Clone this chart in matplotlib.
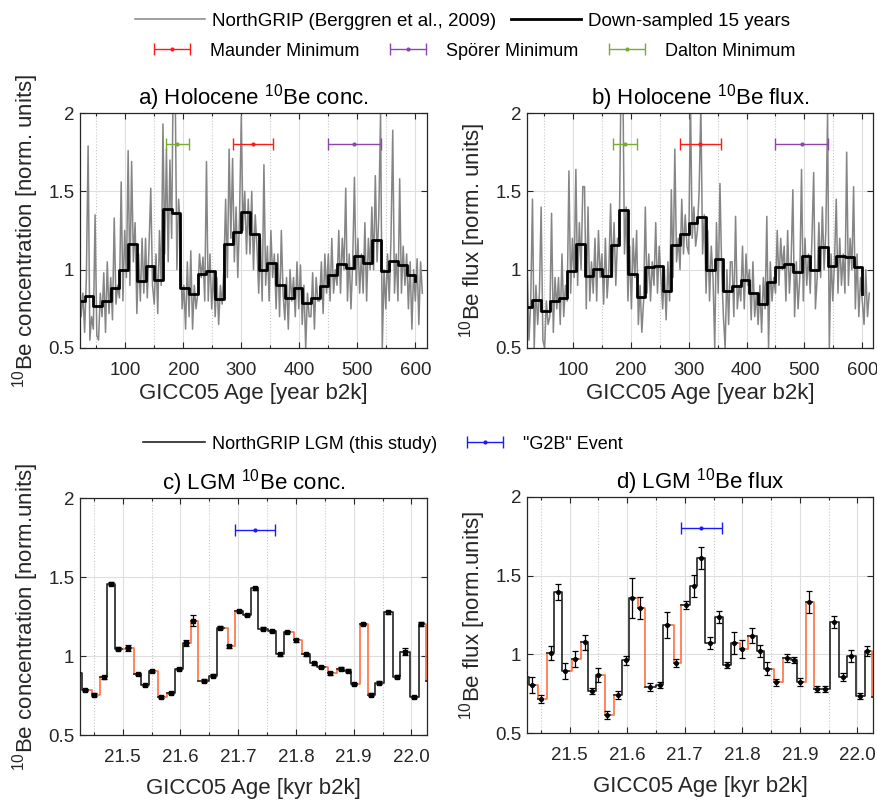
import numpy as np
import matplotlib
matplotlib.use('Agg')
import matplotlib.pyplot as plt
from matplotlib.legend_handler import HandlerErrorbar

plt.rcParams['font.family'] = ['Liberation Sans', 'DejaVu Sans']
plt.rcParams['mathtext.fontset'] = 'custom'
plt.rcParams['mathtext.rm'] = 'Liberation Sans'
plt.rcParams['mathtext.it'] = 'Liberation Sans:italic'
plt.rcParams['mathtext.bf'] = 'Liberation Sans:bold'

# ---------------- Holocene data (NorthGRIP, Berggren et al. 2009) ----------------
hol_age = np.arange(15, 613, 3)  # year b2k, 3-yr samples

# normalised 10Be concentration, 5 samples per 15-yr bin
a_grey = [
    0.92, 0.62, 1.02, 0.70, 0.85,
    0.60, 0.95, 1.79, 0.55, 0.70,
    0.62, 1.35, 0.58, 0.55, 0.85,
    0.70, 0.98, 0.60, 1.05, 0.72,
    0.95, 0.68, 1.33, 0.78, 0.90,
    0.82, 1.56, 0.80, 1.25, 0.95,
    1.76, 0.90, 1.69, 1.05, 1.30,
    0.72, 1.10, 0.80, 1.20, 0.85,
    1.20, 0.82, 1.15, 1.52, 0.90,
    0.78, 1.10, 0.72, 1.25, 0.90,
    1.93, 1.10, 1.77, 1.05, 1.70,
    1.20, 2.40, 2.20, 1.00, 1.45,
    1.25, 0.75, 0.90, 0.62, 1.05,
    0.70, 1.12, 0.62, 0.90, 0.75,
    0.85, 1.10, 0.95, 1.08, 0.80,
    1.69, 0.80, 1.10, 0.75, 0.98,
    0.70, 0.95, 0.65, 0.90, 0.78,
    1.00, 1.45, 0.95, 1.77, 1.20,
    1.71, 1.05, 1.40, 0.95, 1.35,
    1.98, 1.25, 1.50, 1.10, 1.45,
    1.10, 1.50, 1.00, 1.35, 1.15,
    0.85, 1.20, 0.80, 1.67, 0.90,
    1.15, 0.80, 1.25, 0.95, 1.10,
    0.75, 1.10, 0.70, 1.25, 0.85,
    0.68, 0.95, 0.62, 1.00, 0.80,
    0.95, 0.70, 1.05, 0.75, 1.03,
    0.65, 0.90, 0.50, 0.85, 0.70,
    0.70, 0.98, 0.62, 0.95, 0.80,
    0.80, 1.05, 0.72, 1.10, 0.85,
    1.10, 0.80, 1.20, 0.85, 1.00,
    0.90, 1.25, 0.85, 1.20, 1.00,
    1.52, 0.80, 1.10, 0.75, 1.05,
    1.59, 0.90, 1.20, 0.85, 1.10,
    0.85, 1.30, 0.80, 1.20, 1.00,
    1.40, 1.00, 1.60, 1.05, 1.35,
    2.00, 0.50, 1.00, 0.75, 1.10,
    0.80, 1.20, 1.89, 0.85, 1.10,
    0.80, 1.58, 0.85, 1.15, 0.90,
    1.10, 0.75, 1.05, 0.62, 1.00,
    0.80, 1.07, 0.65, 1.05, 0.85,
]

# normalised 10Be flux
b_grey = [
    0.95, 0.62, 1.00, 0.55, 0.80,
    1.45, 0.50, 0.90, 0.65, 0.85,
    1.40, 0.55, 0.50, 0.80, 0.65,
    0.70, 1.36, 0.60, 0.95, 0.75,
    0.95, 0.65, 1.10, 0.70, 0.90,
    0.80, 1.63, 0.85, 1.20, 0.95,
    1.64, 0.90, 1.30, 1.00, 1.53,
    1.53, 0.75, 1.40, 0.80, 1.05,
    0.85, 1.20, 0.80, 1.25, 0.95,
    1.10, 0.78, 1.20, 0.82, 1.00,
    1.42, 0.95, 1.30, 0.90, 1.20,
    1.20, 2.20, 2.30, 1.10, 1.40,
    0.80, 1.15, 0.75, 1.20, 0.95,
    1.25, 0.65, 0.90, 0.60, 0.80,
    1.40, 0.85, 1.10, 0.80, 1.05,
    0.90, 1.30, 0.85, 1.15, 0.95,
    0.75, 1.00, 0.68, 1.05, 0.80,
    1.51, 0.95, 1.77, 1.05, 1.20,
    1.00, 1.45, 1.10, 1.35, 1.15,
    1.10, 2.10, 1.20, 1.40, 1.15,
    1.25, 1.50, 2.05, 1.10, 1.35,
    0.85, 1.25, 0.80, 1.15, 0.95,
    0.50, 1.30, 0.85, 1.55, 1.00,
    0.70, 0.50, 1.00, 0.65, 1.05,
    1.05, 0.70, 1.34, 0.75, 0.90,
    0.80, 1.15, 0.75, 1.10, 0.90,
    1.00, 0.68, 1.05, 0.70, 0.85,
    0.65, 0.90, 0.60, 0.95, 0.75,
    1.34, 0.50, 1.05, 0.80, 0.95,
    0.85, 1.25, 0.90, 1.20, 1.00,
    1.15, 0.80, 1.25, 0.85, 1.05,
    1.51, 0.70, 1.05, 0.75, 0.95,
    1.64, 0.80, 1.20, 0.90, 1.10,
    0.85, 1.20, 1.62, 0.75, 0.95,
    1.30, 0.95, 1.40, 1.00, 1.25,
    2.00, 0.50, 1.10, 0.80, 1.05,
    1.45, 0.85, 1.20, 0.90, 1.10,
    0.85, 1.75, 0.90, 1.20, 1.00,
    1.53, 0.75, 1.10, 0.70, 0.95,
    0.80, 0.65, 1.00, 0.70, 0.85,
]

# 15-year down-sampled record (bin start ages, last value closes the step)
bin_age = np.arange(15, 601, 15)
a_step = [0.80, 0.83, 0.77, 0.80, 0.885, 1.00, 1.165, 0.925, 1.025, 0.935,
          1.385, 1.36, 0.885, 0.845, 0.975, 0.99, 0.815, 1.165, 1.24, 1.37,
          1.225, 1.00, 1.045, 0.905, 0.82, 0.885, 0.785, 0.82, 0.895, 0.965,
          1.035, 1.01, 1.085, 1.04, 1.19, 0.99, 1.055, 1.03, 0.965, 0.93]
b_step = [0.76, 0.805, 0.736, 0.797, 0.818, 0.994, 1.166, 0.962, 1.003, 0.958,
          1.156, 1.38, 0.97, 0.825, 1.015, 1.025, 0.865, 1.156, 1.225, 1.295,
          1.335, 1.00, 1.07, 0.865, 0.895, 0.932, 0.85, 0.78, 0.92, 1.02,
          1.033, 0.982, 1.088, 1.00, 1.145, 1.024, 1.085, 1.083, 1.015, 0.844]

# grand solar minima (centre, half width in years)
minima_names = ['Maunder Minimum', 'Spörer Minimum', 'Dalton Minimum']
minima_mid = [320, 495, 190]
minima_half = [35, 45, 20]
minima_colors = ['#ff1a1a', '#8e44ad', '#77ac30']

# ---------------- LGM data (this study) ----------------
lgm_top = [21.410, 21.430, 21.446, 21.461, 21.473, 21.486, 21.505, 21.520, 21.532,
           21.546, 21.561, 21.577, 21.591, 21.604, 21.618, 21.631, 21.650, 21.663,
           21.682, 21.694, 21.709, 21.722, 21.735, 21.752, 21.766, 21.780, 21.796,
           21.810, 21.825, 21.837, 21.855, 21.871, 21.884, 21.895, 21.911, 21.924,
           21.937, 21.952, 21.968, 21.981, 21.997, 22.013, 22.026]
lgm_bot = [21.430, 21.440, 21.454, 21.473, 21.486, 21.499, 21.514, 21.532, 21.546,
           21.554, 21.570, 21.591, 21.604, 21.614, 21.627, 21.650, 21.663, 21.675,
           21.687, 21.709, 21.722, 21.735, 21.752, 21.766, 21.780, 21.790, 21.803,
           21.825, 21.837, 21.850, 21.863, 21.884, 21.895, 21.905, 21.921, 21.937,
           21.952, 21.968, 21.981, 21.997, 22.013, 22.021, 22.045]

c_val = [0.89, 0.786, 0.755, 0.865, 1.458, 1.047, 1.049, 0.885, 0.816, 0.906,
         0.741, 0.767, 0.917, 1.083, 1.222, 0.844, 0.876, 1.18, 1.062, 1.286,
         1.259, 1.43, 1.173, 1.158, 1.01, 1.152, 1.10, 1.01, 0.953, 0.932,
         0.891, 0.921, 0.908, 0.823, 1.203, 0.756, 0.831, 1.276, 0.87, 1.028,
         0.741, 1.205, 0.84]
c_err = [0.008, 0.008, 0.008, 0.008, 0.008, 0.008, 0.02, 0.008, 0.008, 0.008,
         0.008, 0.008, 0.008, 0.02, 0.035, 0.008, 0.008, 0.012, 0.008, 0.008,
         0.008, 0.01, 0.008, 0.008, 0.008, 0.008, 0.008, 0.008, 0.008, 0.008,
         0.008, 0.008, 0.008, 0.008, 0.008, 0.008, 0.008, 0.008, 0.008, 0.02,
         0.008, 0.012, 0.008]

d_val = [0.856, 0.803, 0.716, 1.008, 1.396, 0.896, 0.970, 1.076, 0.765, 0.867,
         0.617, 0.742, 0.962, 1.358, 1.292, 0.792, 0.805, 1.186, 0.945, 1.316,
         1.436, 1.614, 1.072, 1.237, 0.934, 1.072, 1.034, 1.119, 1.02, 0.909,
         0.822, 0.979, 0.962, 0.826, 1.333, 0.78, 0.78, 1.205, 0.858, 0.99,
         0.737, 1.02, 0.73]
d_err = [0.03, 0.05, 0.025, 0.045, 0.05, 0.05, 0.05, 0.05, 0.02, 0.045,
         0.025, 0.025, 0.03, 0.13, 0.07, 0.025, 0.02, 0.08, 0.025, 0.025,
         0.07, 0.07, 0.04, 0.04, 0.02, 0.07, 0.06, 0.05, 0.04, 0.04,
         0.02, 0.025, 0.02, 0.025, 0.07, 0.02, 0.02, 0.04, 0.025, 0.04,
         0.02, 0.03, 0.03]

g2b_mid = 21.729
g2b_half = 0.035

EDGE = '#262626'


def style_axes(ax, xlim, major, minor, fmt):
    ax.set_xlim(xlim)
    ax.set_ylim(0.5, 2)
    ax.set_xticks(major)
    ax.set_xticklabels([fmt % t for t in major])
    ax.set_xticks(minor, minor=True)
    ax.set_yticks([0.5, 1, 1.5, 2])
    ax.set_yticklabels(['0.5', '1', '1.5', '2'])
    ax.grid(True, which='major', color='#dedede', lw=0.8)
    ax.grid(True, which='minor', axis='x', color='#c8c8c8', lw=0.8, ls=':')
    ax.set_axisbelow(True)
    ax.tick_params(which='both', direction='in', top=True, right=True,
                   colors=EDGE, labelsize=13.5, width=0.8)
    ax.tick_params(which='major', length=4, pad=10)
    ax.tick_params(axis='y', pad=4)
    ax.tick_params(which='minor', length=2)
    for s in ax.spines.values():
        s.set_color(EDGE)
        s.set_linewidth(0.9)


def draw_lgm(ax, val, err, fmt, ms, cap):
    bx, by, ox, oy = [], [], [], []
    n = len(val)
    for i in range(n):
        bx += [lgm_top[i], lgm_bot[i]]
        by += [val[i], val[i]]
        if i < n - 1:
            nxt = lgm_top[i + 1]
            if np.isclose(lgm_bot[i], nxt):
                bx += [nxt]
                by += [val[i + 1]]
            else:
                # gap in the record -> value carried on in orange
                ox += [lgm_bot[i], nxt, nxt, np.nan]
                oy += [val[i], val[i], val[i + 1], np.nan]
                bx += [np.nan]
                by += [np.nan]
    ax.plot(ox, oy, color='#ff7043', lw=1.2, zorder=2)
    line, = ax.plot(bx, by, color='#222222', lw=1.2, zorder=3,
                    label='NorthGRIP LGM (this study)')
    mid = (np.array(lgm_top) + np.array(lgm_bot)) / 2
    ax.errorbar(mid, val, yerr=err, fmt=fmt, color='k', ms=ms, capsize=cap,
                elinewidth=0.9, capthick=0.9, zorder=4)
    return line


fig = plt.figure(figsize=(8.78, 8.02), dpi=100)
axa = fig.add_axes([0.0911, 0.5661, 0.3952, 0.2930])
axb = fig.add_axes([0.6002, 0.5661, 0.3941, 0.2930])
axc = fig.add_axes([0.0911, 0.0835, 0.3952, 0.2955])
axd = fig.add_axes([0.6002, 0.0860, 0.3941, 0.2943])

hol_major = [100, 200, 300, 400, 500, 600]
hol_minor = [50, 150, 250, 350, 450, 550]
lgm_major = [21.5, 21.6, 21.7, 21.8, 21.9, 22.0]
lgm_minor = [21.45, 21.55, 21.65, 21.75, 21.85, 21.95]

# ---- a) and b) Holocene
for ax, grey, step, xlim in [(axa, a_grey, a_step, (22, 620)),
                             (axb, b_grey, b_step, (20.5, 618.5))]:
    h_grey, = ax.plot(hol_age, grey, color='#858585', lw=1.1,
                      label='NorthGRIP (Berggren et al., 2009)')
    h_step, = ax.step(bin_age, step, where='post', color='k', lw=2,
                      label='Down-sampled 15 years')
    h_min = []
    for name, m, hw, col in zip(minima_names, minima_mid, minima_half, minima_colors):
        h = ax.errorbar(m, 1.8, xerr=hw, fmt='.', color=col, ms=4, capsize=4,
                        elinewidth=1, capthick=1, label=name)
        h_min.append(h)
    style_axes(ax, xlim, hol_major, hol_minor, '%d')
    ax.set_xlabel('GICC05 Age [year b2k]', fontsize=16, color=EDGE, labelpad=3)

axa.set_title('a) Holocene $^{10}$Be conc.', fontsize=16, pad=4)
axb.set_title('b) Holocene $^{10}$Be flux.', fontsize=16, pad=4)
axa.set_ylabel('$^{10}$Be concentration [norm. units]', fontsize=16, color=EDGE, labelpad=5)
axb.set_ylabel('$^{10}$Be flux [norm. units]', fontsize=16, color=EDGE, labelpad=5)

# ---- c) and d) LGM
lgm_line = draw_lgm(axc, c_val, c_err, 's', 3.2, 2)
draw_lgm(axd, d_val, d_err, 'o', 2.6, 2.5)
for ax, ylab in [(axc, '$^{10}$Be concentration [norm.units]'),
                 (axd, '$^{10}$Be flux [norm.units]')]:
    h_g2b = ax.errorbar(g2b_mid, 1.8, xerr=g2b_half, fmt='.', color='#1a1aff', ms=4,
                        capsize=4, elinewidth=1, capthick=1, label='"G2B" Event')
    style_axes(ax, (21.426, 22.027), lgm_major, lgm_minor, '%.1f')
    ax.set_xlabel('GICC05 Age [kyr b2k]', fontsize=16, color=EDGE, labelpad=9)
    ax.set_ylabel(ylab, fontsize=16, color=EDGE, labelpad=5)
axc.set_title('c) LGM $^{10}$Be conc.', fontsize=16, pad=4)
axd.set_title('d) LGM $^{10}$Be flux', fontsize=16, pad=4)

# ---- legends
fig.legend(handles=[h_grey, h_step], loc='center', bbox_to_anchor=(0.527, 1 - 21 / 802),
           ncol=2, frameon=False, fontsize=13.5, handlelength=3.7, handletextpad=0.4,
           columnspacing=0.8)
fig.legend(handles=h_min, loc='center', bbox_to_anchor=(0.541, 1 - 51 / 802),
           ncol=3, frameon=False, fontsize=13, handlelength=2.0, handletextpad=1.1,
           columnspacing=1.7, handler_map={h: HandlerErrorbar(xerr_size=1.0) for h in h_min})
fig.legend(handles=[lgm_line], loc='center', bbox_to_anchor=(290 / 878, 1 - 444 / 802),
           frameon=False, fontsize=13, handlelength=3.4, handletextpad=0.4)
fig.legend(handles=[h_g2b], loc='center', bbox_to_anchor=(545 / 878, 1 - 444 / 802),
           frameon=False, fontsize=13, handlelength=2.0, handletextpad=1.1,
           handler_map={h_g2b: HandlerErrorbar(xerr_size=1.0)})

fig.savefig('out.png', dpi=100)
